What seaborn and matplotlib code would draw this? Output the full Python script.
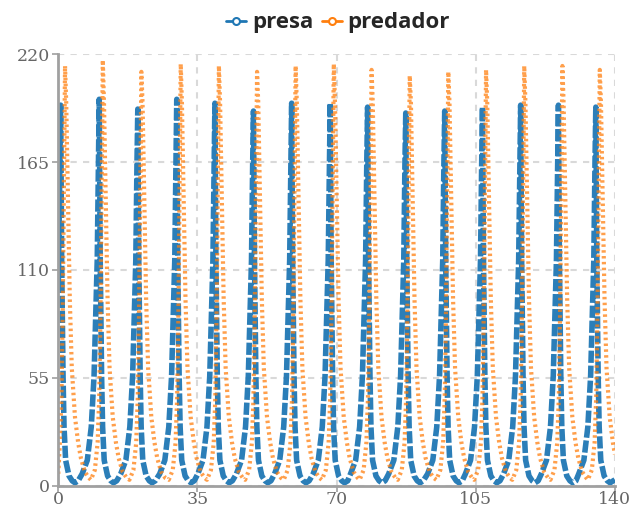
import matplotlib
matplotlib.use("Agg")
import matplotlib.pyplot as plt
from matplotlib.lines import Line2D
import seaborn as sns
import pandas as pd

# ---- data (time, value) ----
t_presa = [
    0.0, 0.4, 0.6, 0.85, 1.2, 1.45, 1.85, 2.7, 3.5, 4.2, 5.0,
    6.0, 7.3, 8.3, 9.0, 9.8, 10.1, 10.3,
    10.55, 10.9, 11.15, 11.55, 12.4, 13.2, 13.9, 14.7,
    15.7, 17.0, 18.0, 18.7, 19.5, 19.8, 20.0,
    20.25, 20.6, 20.85, 21.25, 22.1, 22.9, 23.6, 24.4,
    25.5, 26.8, 27.8, 28.5, 29.3, 29.6, 29.8,
    30.05, 30.4, 30.65, 31.05, 31.9, 32.7, 33.4, 34.2,
    35.1, 36.4, 37.4, 38.1, 38.9, 39.2, 39.4,
    39.65, 40.0, 40.25, 40.65, 41.5, 42.3, 43.0, 43.8,
    44.8, 46.1, 47.1, 47.8, 48.6, 48.9, 49.1,
    49.35, 49.7, 49.95, 50.35, 51.2, 52.0, 52.7, 53.5,
    54.4, 55.7, 56.7, 57.4, 58.2, 58.5, 58.7,
    58.95, 59.3, 59.55, 59.95, 60.8, 61.6, 62.3, 63.1,
    64.1, 65.4, 66.4, 67.1, 67.9, 68.2, 68.4,
    68.65, 69.0, 69.25, 69.65, 70.5, 71.3, 72.0, 72.8,
    73.5, 74.8, 75.8, 76.5, 77.3, 77.6, 77.8,
    78.05, 78.4, 78.65, 79.05, 79.9, 80.7, 81.4, 82.2,
    83.1, 84.4, 85.4, 86.1, 86.9, 87.2, 87.4,
    87.65, 88.0, 88.25, 88.65, 89.5, 90.3, 91.0, 91.8,
    92.9, 94.2, 95.2, 95.9, 96.7, 97.0, 97.2,
    97.45, 97.8, 98.05, 98.45, 99.3, 100.1, 100.8, 101.6,
    102.4, 103.7, 104.7, 105.4, 106.2, 106.5, 106.7,
    106.95, 107.3, 107.55, 107.95, 108.8, 109.6, 110.3, 111.1,
    112.0, 113.3, 114.3, 115.0, 115.8, 116.1, 116.3,
    116.55, 116.9, 117.15, 117.55, 118.4, 119.2, 119.9, 120.7,
    121.5, 122.8, 123.8, 124.5, 125.3, 125.6, 125.8,
    126.05, 126.4, 126.65, 127.05, 127.9, 128.7, 129.4, 130.2,
    130.9, 132.2, 133.2, 133.9, 134.7, 135.0, 135.2,
    135.45, 135.8, 136.05, 136.45, 137.3, 138.1, 138.8, 140.0,
]
presa = [
    100, 165, 194, 115, 56, 30, 13, 5, 2.5, 1.5, 2.5,
    6, 13, 30, 56, 115, 165, 197,
    115, 56, 30, 13, 5, 2.5, 1.5, 2.5,
    6, 13, 30, 56, 115, 165, 192,
    115, 56, 30, 13, 5, 2.5, 1.5, 2.5,
    6, 13, 30, 56, 115, 165, 197,
    115, 56, 30, 13, 5, 2.5, 1.5, 2.5,
    6, 13, 30, 56, 115, 165, 195,
    115, 56, 30, 13, 5, 2.5, 1.5, 2.5,
    6, 13, 30, 56, 115, 165, 191,
    115, 56, 30, 13, 5, 2.5, 1.5, 2.5,
    6, 13, 30, 56, 115, 165, 195,
    115, 56, 30, 13, 5, 2.5, 1.5, 2.5,
    6, 13, 30, 56, 115, 165, 195,
    115, 56, 30, 13, 5, 2.5, 1.5, 2.5,
    6, 13, 30, 56, 115, 165, 193,
    115, 56, 30, 13, 5, 2.5, 1.5, 2.5,
    6, 13, 30, 56, 115, 165, 190,
    115, 56, 30, 13, 5, 2.5, 1.5, 2.5,
    6, 13, 30, 56, 115, 165, 191,
    115, 56, 30, 13, 5, 2.5, 1.5, 2.5,
    6, 13, 30, 56, 115, 165, 193,
    115, 56, 30, 13, 5, 2.5, 1.5, 2.5,
    6, 13, 30, 56, 115, 165, 194,
    115, 56, 30, 13, 5, 2.5, 1.5, 2.5,
    6, 13, 30, 56, 115, 165, 194,
    115, 56, 30, 13, 5, 2.5, 1.5, 2.5,
    6, 13, 30, 56, 115, 165, 193,
    115, 56, 30, 13, 5, 2.5, 1.5, 3,
]

t_predador = [
    0.0, 0.4, 0.8, 1.1, 1.4, 1.7,
    2.0, 2.4, 2.9, 3.4, 4.2, 5.0, 5.7, 6.7, 7.7,
    8.2, 9.2, 9.9, 10.3, 10.6, 10.9, 11.2,
    11.5, 11.9, 12.4, 12.9, 13.7, 14.5, 15.2, 16.2, 17.2,
    17.9, 18.9, 19.6, 20.0, 20.3, 20.6, 20.9,
    21.2, 21.6, 22.1, 22.6, 23.4, 24.2, 24.9, 25.9, 26.9,
    27.8, 28.8, 29.5, 29.9, 30.2, 30.5, 30.8,
    31.1, 31.5, 32.0, 32.5, 33.3, 34.1, 34.8, 35.8, 36.8,
    37.4, 38.4, 39.1, 39.5, 39.8, 40.1, 40.4,
    40.7, 41.1, 41.6, 42.1, 42.9, 43.7, 44.4, 45.4, 46.4,
    47.0, 48.0, 48.7, 49.1, 49.4, 49.7, 50.0,
    50.3, 50.7, 51.2, 51.7, 52.5, 53.3, 54.0, 55.0, 56.0,
    56.7, 57.7, 58.4, 58.8, 59.1, 59.4, 59.7,
    60.0, 60.4, 60.9, 61.4, 62.2, 63.0, 63.7, 64.7, 65.7,
    66.3, 67.3, 68.0, 68.4, 68.7, 69.0, 69.3,
    69.6, 70.0, 70.5, 71.0, 71.8, 72.6, 73.3, 74.3, 75.3,
    75.8, 76.8, 77.5, 77.9, 78.2, 78.5, 78.8,
    79.1, 79.5, 80.0, 80.5, 81.3, 82.1, 82.8, 83.8, 84.8,
    85.4, 86.4, 87.1, 87.5, 87.8, 88.1, 88.4,
    88.7, 89.1, 89.6, 90.1, 90.9, 91.7, 92.4, 93.4, 94.4,
    95.1, 96.1, 96.8, 97.2, 97.5, 97.8, 98.1,
    98.4, 98.8, 99.3, 99.8, 100.6, 101.4, 102.1, 103.1, 104.1,
    104.6, 105.6, 106.3, 106.7, 107.0, 107.3, 107.6,
    107.9, 108.3, 108.8, 109.3, 110.1, 110.9, 111.6, 112.6, 113.6,
    114.2, 115.2, 115.9, 116.3, 116.6, 116.9, 117.2,
    117.5, 117.9, 118.4, 118.9, 119.7, 120.5, 121.2, 122.2, 123.2,
    123.8, 124.8, 125.5, 125.9, 126.2, 126.5, 126.8,
    127.1, 127.5, 128.0, 128.5, 129.3, 130.1, 130.8, 131.8, 132.8,
    133.2, 134.2, 134.9, 135.3, 135.6, 135.9, 136.2,
    136.5, 136.9, 137.4, 137.9, 138.7, 139.5, 140.0,
]
predador = [
    6, 22, 45, 85, 150, 214,
    195, 150, 95, 60, 35, 22, 14, 7, 4,
    3, 8, 22, 45, 85, 150, 217,
    195, 150, 95, 60, 35, 22, 14, 7, 4,
    3, 8, 22, 45, 85, 150, 211,
    195, 150, 95, 60, 35, 22, 14, 7, 4,
    3, 8, 22, 45, 85, 150, 215,
    195, 150, 95, 60, 35, 22, 14, 7, 4,
    3, 8, 22, 45, 85, 150, 214,
    195, 150, 95, 60, 35, 22, 14, 7, 4,
    3, 8, 22, 45, 85, 150, 211,
    195, 150, 95, 60, 35, 22, 14, 7, 4,
    3, 8, 22, 45, 85, 150, 214,
    195, 150, 95, 60, 35, 22, 14, 7, 4,
    3, 8, 22, 45, 85, 150, 215,
    195, 150, 95, 60, 35, 22, 14, 7, 4,
    3, 8, 22, 45, 85, 150, 212,
    195, 150, 95, 60, 35, 22, 14, 7, 4,
    3, 8, 22, 45, 85, 150, 209,
    195, 150, 95, 60, 35, 22, 14, 7, 4,
    3, 8, 22, 45, 85, 150, 211,
    195, 150, 95, 60, 35, 22, 14, 7, 4,
    3, 8, 22, 45, 85, 150, 212,
    195, 150, 95, 60, 35, 22, 14, 7, 4,
    3, 8, 22, 45, 85, 150, 214,
    195, 150, 95, 60, 35, 22, 14, 7, 4,
    3, 8, 22, 45, 85, 150, 214,
    195, 150, 95, 60, 35, 22, 14, 7, 4,
    3, 8, 22, 45, 85, 150, 212,
    195, 150, 95, 60, 35, 22, 16,
]

series_names = ["presa", "predador"]
colors = {"presa": "#1f77b4", "predador": "#ff7f0e"}
x_ticks = [0, 35, 70, 105, 140]
y_ticks = [0, 55, 110, 165, 220]

df = pd.concat([
    pd.DataFrame({"t": t_presa, "valor": presa, "serie": "presa"}),
    pd.DataFrame({"t": t_predador, "valor": predador, "serie": "predador"}),
], ignore_index=True)

sns.set_theme(style="white")
fig = plt.figure(figsize=(6.3, 5.11), dpi=100)
ax = fig.add_axes([0.0925, 0.0495, 0.8835, 0.8445])

sns.lineplot(data=df, x="t", y="valor", hue="serie", style="serie",
             hue_order=series_names, style_order=series_names,
             palette=colors,
             dashes={"presa": (2.2, 0.5), "predador": (0.6, 0.8)},
             estimator=None, sort=False, legend=False, ax=ax)
lines = ax.get_lines()
lines[0].set_linewidth(4.0)
lines[0].set_alpha(0.95)
lines[1].set_linewidth(3.0)
lines[1].set_alpha(0.75)

ax.set_xlim(0, 140)
ax.set_ylim(0, 220)
ax.set_xticks(x_ticks)
ax.set_yticks(y_ticks)
ax.set_xlabel("")
ax.set_ylabel("")

ax.grid(True, color="#d9d9d9", linestyle=(0, (3, 3)), linewidth=1.5)
ax.set_axisbelow(True)
for s in ["top", "right"]:
    ax.spines[s].set_visible(False)
for s in ["left", "bottom"]:
    ax.spines[s].set_color("#a0a0a0")
    ax.spines[s].set_linewidth(2)

ax.tick_params(axis="both", which="both", length=4, width=1.2, color="#a0a0a0",
               labelsize=12.5, labelcolor="#666666", direction="out",
               bottom=True, left=True)
ax.tick_params(axis="x", pad=0)
ax.tick_params(axis="y", pad=2)
for lab in ax.get_xticklabels() + ax.get_yticklabels():
    lab.set_fontfamily("DejaVu Serif")

handles = [Line2D([0], [0], color=colors[n], lw=2, marker="o", markersize=5,
                  markerfacecolor="white", markeredgecolor=colors[n],
                  markeredgewidth=1.5) for n in series_names]
leg = fig.legend(handles, series_names, loc="upper center",
                 bbox_to_anchor=(0.537, 1.015), ncol=2, frameon=False,
                 handlelength=0.9, handletextpad=0.25, columnspacing=0.4,
                 prop={"family": "Open Sans", "weight": "bold", "size": 16})

fig.savefig("out.png", dpi=100)
